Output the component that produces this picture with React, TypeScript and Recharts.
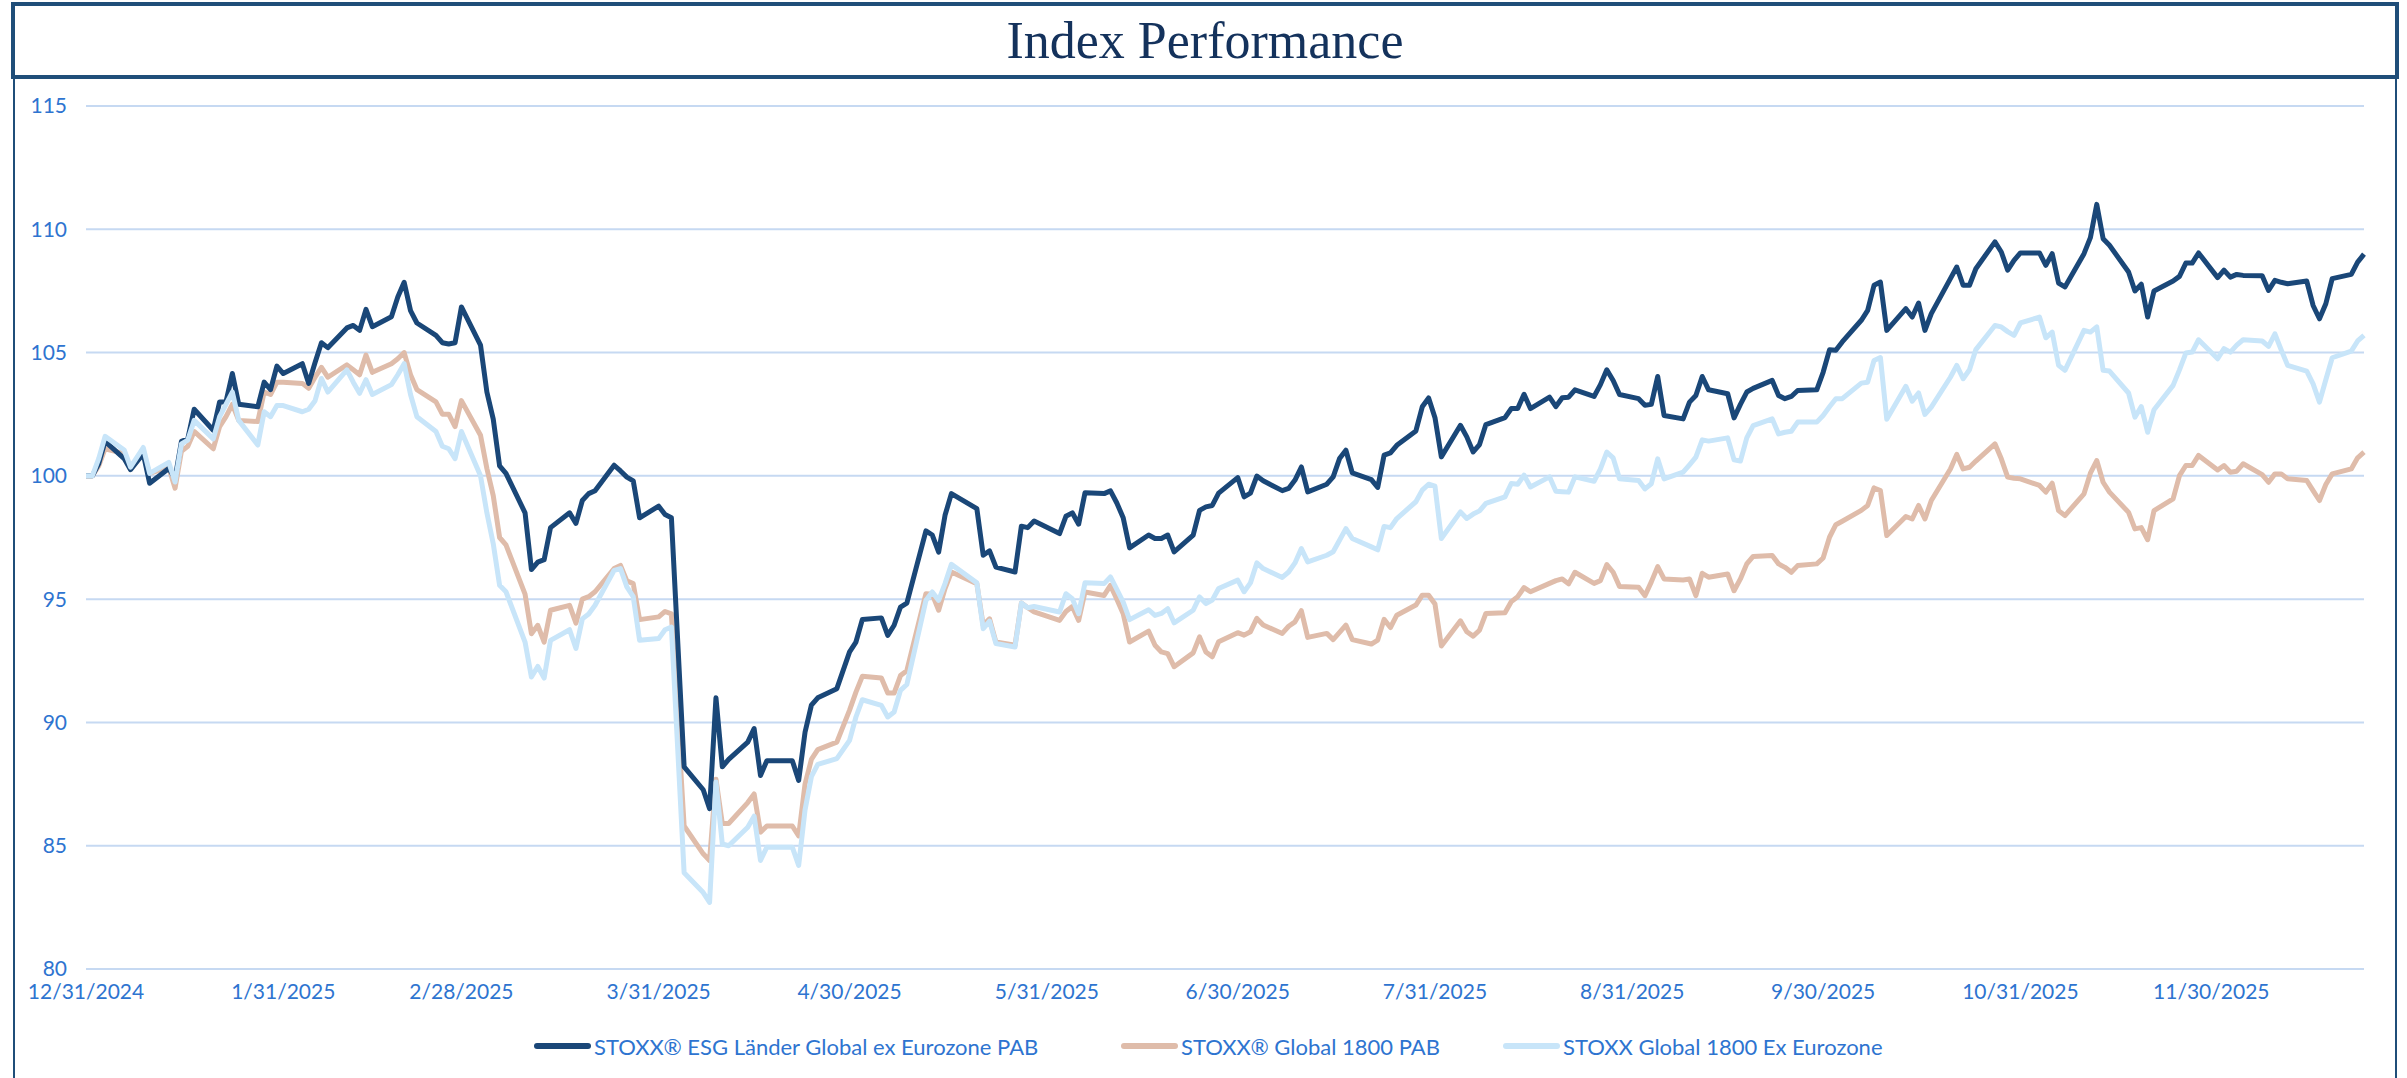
import { LineChart, Line, XAxis, YAxis, CartesianGrid } from "recharts";

// day offsets from 12/31/2024
const DAYS = [
  0, 1, 2, 3, 6, 7, 9, 10, 13, 14, 15, 16, 17, 20, 21, 22, 23, 24, 27, 28, 29, 30, 31, 34, 35, 36, 37, 38,
  41, 42, 43, 44, 45, 48, 49, 50, 51, 52, 55, 56, 57, 58, 59, 62, 63, 64, 65, 66, 69, 70, 71, 72, 73, 76,
  77, 78, 79, 80, 83, 84, 85, 86, 87, 90, 91, 92, 94, 97, 98, 99, 100, 101, 104, 105, 106, 107, 111, 112,
  113, 114, 115, 118, 120, 121, 122, 125, 126, 127, 128, 129, 132, 133, 134, 135, 136, 140, 141, 142, 143,
  146, 147, 148, 149, 153, 154, 155, 156, 157, 160, 161, 162, 163, 164, 167, 168, 169, 170, 171, 174, 175,
  176, 177, 178, 181, 182, 183, 184, 185, 188, 189, 190, 191, 192, 195, 196, 197, 198, 199, 202, 203, 204,
  205, 206, 209, 210, 211, 212, 213, 216, 217, 218, 219, 220, 223, 224, 225, 226, 227, 230, 231, 232, 233,
  234, 237, 238, 239, 240, 241, 244, 245, 246, 247, 248, 251, 252, 253, 254, 255, 258, 259, 260, 261, 262,
  265, 266, 267, 268, 269, 272, 273, 274, 275, 276, 279, 280, 281, 282, 283, 286, 287, 288, 289, 290, 293,
  294, 295, 296, 297, 300, 301, 302, 303, 304, 307, 308, 309, 310, 311, 314, 315, 316, 317, 318, 321, 322,
  323, 324, 325, 328, 329, 330, 331, 332, 335, 336, 337, 338, 339, 342, 343, 344, 345, 346, 349, 350, 351,
  352, 353, 356, 357, 358,
];

const ESG = [
  100, 100, 100.5, 101.4, 100.7, 100.25, 100.9, 99.7, 100.3, 99.9, 101.4, 101.5, 102.7, 101.85, 103.0, 103.0,
  104.15, 102.9, 102.8, 103.8, 103.5, 104.45, 104.15, 104.55, 103.75, 104.6, 105.4, 105.2, 106.0, 106.1, 105.9,
  106.75, 106.05, 106.45, 107.25, 107.85, 106.7, 106.2, 105.7, 105.4, 105.35, 105.4, 106.85, 105.3, 103.4,
  102.3, 100.4, 100.1, 98.5, 96.2, 96.5, 96.6, 97.9, 98.5, 98.07, 99.0, 99.28, 99.4, 100.43, 100.2, 99.95, 99.8,
  98.3, 98.77, 98.43, 98.3, 88.2, 87.27, 86.5, 91.0, 88.2, 88.5, 89.2, 89.75, 87.85, 88.45, 88.45, 87.65, 89.6,
  90.7, 91.0, 91.37, 92.86, 93.26, 94.17, 94.24, 93.53, 93.94, 94.68, 94.84, 97.77, 97.6, 96.91, 98.4, 99.28,
  98.67, 96.78, 96.96, 96.3, 96.1, 97.96, 97.9, 98.17, 97.66, 98.36, 98.5, 98.04, 99.31, 99.28, 99.39, 98.9,
  98.3, 97.08, 97.6, 97.46, 97.46, 97.6, 96.92, 97.6, 98.6, 98.74, 98.8, 99.3, 99.93, 99.15, 99.3, 99.99, 99.8,
  99.4, 99.49, 99.83, 100.36, 99.35, 99.66, 99.96, 100.7, 101.04, 100.12, 99.85, 99.53, 100.84, 100.93, 101.24,
  101.82, 102.8, 103.16, 102.36, 100.77, 102.05, 101.58, 100.97, 101.27, 102.08, 102.36, 102.73, 102.73, 103.31,
  102.73, 103.19, 102.81, 103.17, 103.19, 103.49, 103.22, 103.7, 104.3, 103.87, 103.3, 103.13, 102.86, 102.9,
  104.03, 102.45, 102.31, 102.99, 103.26, 104.03, 103.49, 103.33, 102.35, 102.9, 103.4, 103.55, 103.87, 103.26,
  103.13, 103.22, 103.46, 103.49, 104.2, 105.11, 105.09, 105.43, 106.31, 106.71, 107.73, 107.86, 105.9, 106.78,
  106.44, 107.01, 105.9, 106.58, 108.0, 108.47, 107.73, 107.73, 108.4, 109.49, 109.08, 108.34, 108.74, 109.04,
  109.04, 108.54, 109.01, 107.82, 107.66, 109.01, 109.66, 111.01, 109.62, 109.35, 108.27, 107.5, 107.77, 106.44,
  107.5, 107.9, 108.09, 108.63, 108.63, 109.04, 108.04, 108.34, 108.06, 108.17, 108.13, 108.12, 107.52, 107.93,
  107.85, 107.79, 107.9, 106.91, 106.37, 106.98, 108.0, 108.17, 108.67, 108.99,
];

const PAB = [
  100, 100, 100.4, 101.1, 100.9, 100.3, 100.9, 100.1, 100.35, 99.5, 101.0, 101.2, 101.8, 101.1, 102.0, 102.4,
  102.9, 102.25, 102.2, 103.4, 103.3, 103.8, 103.8, 103.75, 103.55, 104.0, 104.4, 104.0, 104.5, 104.3, 104.1,
  104.9, 104.2, 104.55, 104.75, 105.0, 104.1, 103.5, 103.0, 102.5, 102.5, 102.0, 103.05, 101.65, 100.3, 99.2,
  97.5, 97.2, 95.2, 93.6, 93.94, 93.26, 94.55, 94.75, 94.03, 95.0, 95.1, 95.3, 96.24, 96.37, 95.74, 95.63, 94.17,
  94.28, 94.5, 94.4, 85.8, 84.67, 84.4, 87.7, 85.9, 85.9, 86.75, 87.1, 85.55, 85.8, 85.8, 85.4, 87.5, 88.5, 88.9,
  89.2, 90.5, 91.23, 91.87, 91.8, 91.19, 91.19, 91.9, 92.1, 95.22, 95.2, 94.55, 95.43, 96.1, 95.63, 93.94, 94.2,
  93.26, 93.13, 94.84, 94.65, 94.48, 94.14, 94.5, 94.7, 94.14, 95.29, 95.15, 95.56, 95.0, 94.41, 93.26, 93.7,
  93.13, 92.86, 92.79, 92.26, 92.82, 93.47, 92.86, 92.66, 93.27, 93.64, 93.54, 93.68, 94.22, 93.95, 93.61, 93.9,
  94.08, 94.53, 93.45, 93.61, 93.36, 93.65, 93.95, 93.36, 93.18, 93.34, 94.18, 93.85, 94.35, 94.76, 95.16, 95.16,
  94.8, 93.1, 94.12, 93.68, 93.5, 93.74, 94.42, 94.45, 94.9, 95.1, 95.47, 95.3, 95.64, 95.75, 95.82, 95.62, 96.09,
  95.64, 95.75, 96.4, 96.09, 95.51, 95.48, 95.14, 95.7, 96.32, 95.82, 95.78, 95.82, 95.14, 96.05, 95.89, 96.02,
  95.34, 95.82, 96.43, 96.73, 96.77, 96.43, 96.29, 96.09, 96.36, 96.43, 96.67, 97.51, 98.02, 98.16, 98.6, 98.8,
  99.51, 99.4, 97.58, 98.35, 98.25, 98.8, 98.25, 99.0, 100.28, 100.87, 100.28, 100.35, 100.6, 101.3, 100.69,
  99.95, 99.9, 99.88, 99.61, 99.34, 99.7, 98.59, 98.39, 99.27, 100.11, 100.62, 99.74, 99.34, 98.52, 97.85, 97.9,
  97.41, 98.59, 99.07, 100.01, 100.42, 100.42, 100.83, 100.24, 100.42, 100.15, 100.19, 100.49, 100.05, 99.74,
  100.08, 100.08, 99.88, 99.81, 99.4, 99.0, 99.65, 100.08, 100.28, 100.73, 100.96,
];

const EXEZ = [
  100, 100, 100.7, 101.6, 101.05, 100.35, 101.15, 100.1, 100.55, 99.75, 101.3, 101.45, 102.25, 101.5, 102.4,
  102.9, 103.4, 102.25, 101.25, 102.6, 102.4, 102.85, 102.85, 102.6, 102.7, 103.05, 103.95, 103.4, 104.3, 103.8,
  103.35, 103.9, 103.3, 103.7, 104.1, 104.55, 103.3, 102.4, 101.8, 101.2, 101.1, 100.7, 101.8, 100.0, 98.5,
  97.25, 95.56, 95.3, 93.26, 91.84, 92.27, 91.8, 93.33, 93.76, 93.0, 94.2, 94.4, 94.75, 96.17, 96.24, 95.5, 95.1,
  93.33, 93.4, 93.76, 93.87, 83.9, 83.1, 82.7, 87.58, 85.07, 85.0, 85.75, 86.2, 84.4, 84.94, 84.94, 84.2, 86.45,
  87.8, 88.3, 88.53, 89.27, 90.22, 90.92, 90.69, 90.22, 90.42, 91.3, 91.54, 94.95, 95.29, 94.95, 95.63, 96.41,
  95.66, 93.8, 94.11, 93.2, 93.06, 94.84, 94.65, 94.7, 94.48, 95.22, 95.02, 94.41, 95.66, 95.63, 95.9, 95.4,
  94.88, 94.17, 94.57, 94.34, 94.42, 94.61, 94.04, 94.55, 95.09, 94.82, 94.96, 95.43, 95.77, 95.3, 95.66, 96.47,
  96.24, 95.88, 96.1, 96.47, 97.05, 96.51, 96.78, 96.92, 97.39, 97.86, 97.46, 97.12, 97.0, 97.95, 97.9, 98.27,
  98.95, 99.42, 99.66, 99.58, 97.46, 98.54, 98.27, 98.45, 98.58, 98.88, 99.15, 99.69, 99.66, 100.03, 99.55,
  99.96, 99.38, 99.36, 99.34, 99.96, 99.78, 100.28, 100.96, 100.73, 99.88, 99.81, 99.47, 99.68, 100.69, 99.88,
  100.15, 100.45, 100.76, 101.46, 101.41, 101.54, 100.65, 100.6, 101.54, 102.04, 102.31, 101.7, 101.77, 101.81,
  102.18, 102.18, 102.45, 102.8, 103.13, 103.13, 103.76, 103.8, 104.68, 104.8, 102.3, 103.63, 103.03, 103.36,
  102.49, 102.79, 104.0, 104.48, 103.94, 104.3, 105.12, 106.1, 106.04, 105.85, 105.7, 106.2, 106.44, 105.6,
  105.83, 104.48, 104.28, 105.9, 105.83, 106.04, 104.28, 104.25, 103.36, 102.38, 102.81, 101.77, 102.68, 103.67,
  104.3, 104.98, 105.02, 105.52, 104.75, 105.16, 105.02, 105.3, 105.52, 105.47, 105.25, 105.76, 105.1, 104.48,
  104.25, 103.73, 102.99, 103.9, 104.79, 105.06, 105.47, 105.7,
];

const TICK_DAYS = [0, 31, 59, 90, 120, 151, 181, 212, 243, 273, 304, 334];
const TICK_LABELS = [
  "12/31/2024", "1/31/2025", "2/28/2025", "3/31/2025", "4/30/2025", "5/31/2025",
  "6/30/2025", "7/31/2025", "8/31/2025", "9/30/2025", "10/31/2025", "11/30/2025",
];
const Y_TICKS = [80, 85, 90, 95, 100, 105, 110, 115];

const SERIES = [
  { key: "pab", name: "STOXX® Global 1800 PAB", color: "#dfbcaa" },
  { key: "esg", name: "STOXX® ESG Länder Global ex Eurozone PAB", color: "#1a4778" },
  { key: "exez", name: "STOXX Global 1800 Ex Eurozone", color: "#c8e5f9" },
];

const LEGEND = [
  { name: "STOXX® ESG Länder Global ex Eurozone PAB", color: "#1a4778", left: 534 },
  { name: "STOXX® Global 1800 PAB", color: "#dfbcaa", left: 1121 },
  { name: "STOXX Global 1800 Ex Eurozone", color: "#c8e5f9", left: 1503 },
];

const rows = DAYS.map((d, i) => ({ day: d, esg: ESG[i], pab: PAB[i], exez: EXEZ[i] }));

const BORDER = "#1f4e79";
const TEXT_BLUE = "#2e74d0";
const FONT = "Lato, 'Open Sans', sans-serif";

export default function App() {
  return (
    <div
      style={{
        position: "absolute",
        left: 0,
        top: 0,
        width: 2407,
        height: 1078,
        background: "#fff",
        overflow: "hidden",
      }}
    >
      {/* side frame */}
      <div
        style={{
          position: "absolute",
          left: 13,
          top: 76,
          width: 2384,
          height: 1010,
          boxSizing: "border-box",
          borderLeft: `2px solid ${BORDER}`,
          borderRight: `2px solid ${BORDER}`,
        }}
      />
      {/* title box */}
      <div
        style={{
          position: "absolute",
          left: 11,
          top: 2,
          width: 2388,
          height: 77,
          boxSizing: "border-box",
          border: `4px solid ${BORDER}`,
          textAlign: "center",
          fontFamily: "'Liberation Serif', serif",
          fontSize: 52,
          lineHeight: "69px",
          color: "#14325c",
        }}
      >
        Index Performance
      </div>

      <div style={{ position: "absolute", left: 0, top: 0 }}>
        <LineChart
          width={2407}
          height={1078}
          data={rows}
          margin={{ top: 106, right: 43, bottom: 0, left: 0 }}
        >
          <CartesianGrid vertical={false} stroke="#c6d9f2" strokeWidth={2} />
          <XAxis
            dataKey="day"
            type="number"
            domain={[0, 358]}
            ticks={TICK_DAYS}
            interval={0}
            tickFormatter={(v: number) => TICK_LABELS[TICK_DAYS.indexOf(v)] ?? ""}
            axisLine={false}
            tickLine={false}
            tickSize={0}
            tickMargin={15}
            height={109}
            tick={{ fill: TEXT_BLUE, fontSize: 21, fontFamily: FONT }}
          />
          <YAxis
            type="number"
            domain={[80, 115]}
            ticks={Y_TICKS}
            interval={0}
            axisLine={false}
            tickLine={false}
            tickSize={0}
            tickMargin={19}
            width={86}
            tick={{ fill: TEXT_BLUE, fontSize: 21, fontFamily: FONT }}
          />
          {SERIES.map((s) => (
            <Line
              key={s.key}
              type="linear"
              dataKey={s.key}
              name={s.name}
              stroke={s.color}
              strokeWidth={5}
              strokeLinejoin="round"
              dot={false}
              activeDot={false}
              isAnimationActive={false}
            />
          ))}
        </LineChart>
      </div>

      {/* legend */}
      {LEGEND.map((l) => (
        <div
          key={l.name}
          style={{
            position: "absolute",
            left: l.left,
            top: 1034,
            height: 24,
            display: "flex",
            alignItems: "center",
            fontFamily: FONT,
            fontSize: 22,
            color: TEXT_BLUE,
            whiteSpace: "nowrap",
          }}
        >
          <span
            style={{
              display: "inline-block",
              width: 57,
              height: 6,
              borderRadius: 3,
              background: l.color,
              marginRight: 3,
            }}
          />
          {l.name}
        </div>
      ))}
    </div>
  );
}
